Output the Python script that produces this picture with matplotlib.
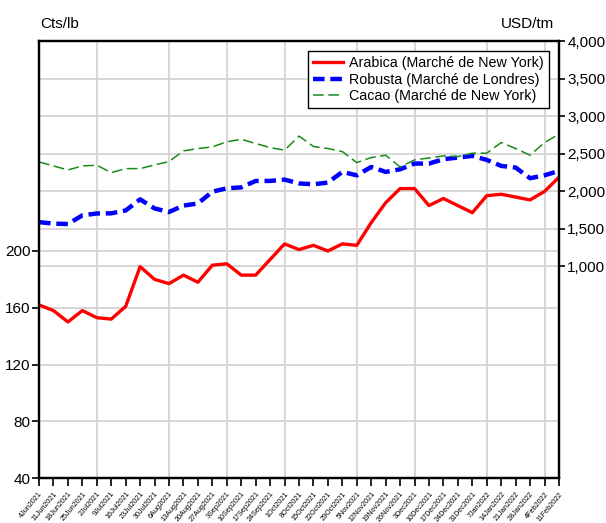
import matplotlib
matplotlib.use("Agg")
import matplotlib.pyplot as plt

plt.rcParams["font.family"] = ["Liberation Sans Narrow", "Liberation Sans", "DejaVu Sans"]

dates = [
    "4Jun2021", "11Jun2021", "18Jun2021", "25Jun2021",
    "2Jul2021", "9Jul2021", "16Jul2021", "23Jul2021", "30Jul2021",
    "6Aug2021", "13Aug2021", "20Aug2021", "27Aug2021",
    "3Sep2021", "10Sep2021", "17Sep2021", "24Sep2021",
    "1Oct2021", "8Oct2021", "15Oct2021", "22Oct2021", "29Oct2021",
    "5Nov2021", "12Nov2021", "19Nov2021", "26Nov2021",
    "3Dec2021", "10Dec2021", "17Dec2021", "24Dec2021", "31Dec2021",
    "7Jan2022", "14Jan2022", "21Jan2022", "28Jan2022",
    "4Feb2022", "11Feb2022",
]

# Cts/lb (left axis)
arabica = [162, 158, 150, 158, 153, 152, 161, 189, 180, 177, 183, 178, 190,
           191, 183, 183, 194, 205, 201, 204, 200, 205, 204, 220, 234, 244,
           244, 232, 237, 232, 227, 239, 240, 238, 236, 242, 252]

# USD/tm (right axis)
robusta = [1590, 1570, 1565, 1680, 1705, 1707, 1745, 1893, 1772, 1725, 1810,
           1838, 1995, 2040, 2052, 2138, 2138, 2156, 2105, 2094, 2116, 2258,
           2213, 2324, 2258, 2293, 2369, 2369, 2427, 2449, 2471, 2418, 2338,
           2316, 2174, 2213, 2271]

cacao = [2391, 2338, 2284, 2338, 2347, 2249, 2302, 2302, 2351, 2396, 2538,
         2569, 2591, 2658, 2693, 2636, 2582, 2547, 2735, 2596, 2569, 2529,
         2382, 2449, 2480, 2324, 2418, 2444, 2471, 2462, 2507, 2507, 2649,
         2569, 2480, 2649, 2760]

left_ticks = [40, 80, 120, 160, 200]
right_ticks = [1000, 1500, 2000, 2500, 3000, 3500, 4000]

x = list(range(len(dates)))
month_starts = [i for i in range(1, len(dates))
                if dates[i].rstrip("0123456789")[-3:] != dates[i - 1].rstrip("0123456789")[-3:]]

fig = plt.figure(figsize=(6.06, 5.23), dpi=100)
ax = fig.add_axes([0.0644, 0.086, 0.858, 0.8356])
ax2 = ax.twinx()
ax.set_zorder(ax2.get_zorder() + 1)
ax.patch.set_visible(False)

grid_color = "#d4d4d4"
for i in month_starts:
    ax2.axvline(i, color=grid_color, lw=1.3, zorder=0.5)

ax2.plot(x, robusta, color="#0000ff", lw=3.2, dashes=(2.6, 1.3), label="Robusta (Marché de Londres)")
ax2.plot(x, cacao, color="#1a8a1a", lw=1.1, dashes=(7, 3), label="Cacao (Marché de New York)")
ax.plot(x, arabica, color="#ff0000", lw=2.4, label="Arabica (Marché de New York)")

ax.set_xlim(0, len(dates) - 1)
ax.set_ylim(40, 348)
ax2.set_ylim(-1815, 4000)

ax.set_yticks(left_ticks)
ax.set_yticklabels([str(v) for v in left_ticks], fontsize=11)
ax2.set_yticks(right_ticks)
ax2.set_yticklabels([f"{v:,}" for v in right_ticks], fontsize=11)

ax.set_xticks(x)
ax.set_xticklabels(dates, fontsize=5.2, rotation=50, ha="right", rotation_mode="anchor")

ax.grid(axis="y", color=grid_color, lw=1.3)
ax2.grid(axis="y", color=grid_color, lw=1.3)
ax.set_axisbelow(True)
ax2.set_axisbelow(True)

ax.tick_params(axis="x", length=6, width=1.2, pad=3)
ax.tick_params(axis="y", length=5, width=1.2, pad=1)
ax2.tick_params(axis="y", length=4, width=1.2, pad=2)

for a in (ax, ax2):
    for s in a.spines.values():
        s.set_linewidth(1.6)
        s.set_color("black")

fig.text(0.066, 0.955, "Cts/lb", fontsize=11, ha="left", va="center")
fig.text(0.915, 0.955, "USD/tm", fontsize=11, ha="right", va="center")

h1, l1 = ax.get_legend_handles_labels()
h2, l2 = ax2.get_legend_handles_labels()
leg = ax.legend(h1 + h2, l1 + l2, loc="upper right", bbox_to_anchor=(0.98, 0.976),
                fontsize=10.3, frameon=True, fancybox=False, edgecolor="black",
                framealpha=1, handlelength=2.1, handletextpad=0.4,
                labelspacing=0.15, borderpad=0.35, borderaxespad=0)
leg.get_frame().set_linewidth(1.0)

fig.savefig("out.png", dpi=100)
